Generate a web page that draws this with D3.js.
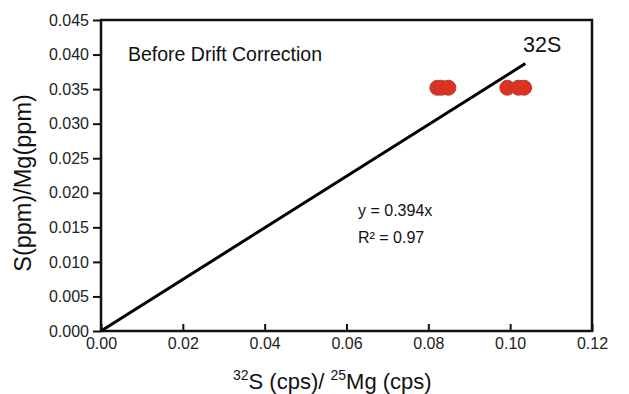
<!DOCTYPE html>
<html>
<head>
<meta charset="utf-8">
<script src="https://cdn.jsdelivr.net/npm/d3@7"></script>
<style>
  body { margin: 0; background: #fff; }
  svg { display: block; font-family: "Liberation Sans", Arial, sans-serif; }
</style>
</head>
<body>
<svg id="chart" width="629" height="394"></svg>
<script>
// data
var pointsX = [0.0822, 0.0832, 0.0849, 0.0993, 0.1020, 0.1034];
var pointsY = [0.0352, 0.0352, 0.0352, 0.0352, 0.0352, 0.0352];
var fitX = [0, 0.1037];
var fitY = [0, 0.0387];
var xTicks = [0, 0.02, 0.04, 0.06, 0.08, 0.10, 0.12];
var yTicks = [0, 0.005, 0.010, 0.015, 0.020, 0.025, 0.030, 0.035, 0.040, 0.045];

var svg = d3.select('#chart');
// plot box (window.top is reserved, so prefix)
var pLeft = 101, pRight = 592, pTop = 20, pBottom = 331;

var x = d3.scaleLinear().domain([0, 0.12]).range([pLeft, pRight]);
var y = d3.scaleLinear().domain([0, 0.045]).range([pBottom, pTop]);

// axes
var xAxis = svg.append('g')
  .attr('transform', 'translate(0,' + pBottom + ')')
  .call(d3.axisBottom(x).tickValues(xTicks).tickFormat(d3.format('.2f'))
    .tickSizeInner(-7).tickSizeOuter(0).tickPadding(7));
var yAxis = svg.append('g')
  .attr('transform', 'translate(' + pLeft + ',0)')
  .call(d3.axisLeft(y).tickValues(yTicks).tickFormat(d3.format('.3f'))
    .tickSizeInner(8).tickSizeOuter(0).tickPadding(4));

[xAxis, yAxis].forEach(function(g){
  g.select('.domain').remove();
  g.selectAll('line').attr('stroke', '#111').attr('stroke-width', 2);
  g.selectAll('text').attr('font-size', 16).attr('fill', '#222')
    .attr('font-family', '"Liberation Sans", Arial, sans-serif');
});

// frame
svg.append('rect')
  .attr('x', pLeft).attr('y', pTop)
  .attr('width', pRight - pLeft).attr('height', pBottom - pTop)
  .attr('fill', 'none').attr('stroke', '#111').attr('stroke-width', 2.5);

// fit line
svg.append('line')
  .attr('x1', x(fitX[0])).attr('y1', y(fitY[0]))
  .attr('x2', x(fitX[1])).attr('y2', y(fitY[1]))
  .attr('stroke', '#000').attr('stroke-width', 3);

// points
svg.append('g').selectAll('circle')
  .data(pointsX)
  .enter().append('circle')
  .attr('cx', function(d){ return x(d); })
  .attr('cy', function(d, i){ return y(pointsY[i]); })
  .attr('r', 7.5)
  .attr('fill', '#e1301f')
  .attr('stroke', '#a8443a')
  .attr('stroke-width', 1);

// labels
svg.append('text').attr('x', 128).attr('y', 61)
  .attr('font-size', 19.5).attr('fill', '#111')
  .text('Before Drift Correction');
svg.append('text').attr('x', 523).attr('y', 52)
  .attr('font-size', 21.5).attr('fill', '#111')
  .text('32S');
svg.append('text').attr('x', 358).attr('y', 216)
  .attr('font-size', 16).attr('fill', '#111')
  .text('y = 0.394x');
svg.append('text').attr('x', 358).attr('y', 243)
  .attr('font-size', 16).attr('fill', '#111')
  .text('R² = 0.97');

// axis titles
var xt = svg.append('text').attr('x', 233).attr('y', 389)
  .attr('font-size', 22).attr('fill', '#111');
xt.append('tspan').attr('font-size', 14).attr('dy', -9).text('32');
xt.append('tspan').attr('dy', 9).text('S (cps)/ ');
xt.append('tspan').attr('font-size', 14).attr('dy', -9).text('25');
xt.append('tspan').attr('dy', 9).text('Mg (cps)');

svg.append('text')
  .attr('transform', 'translate(31,183) rotate(-90)')
  .attr('text-anchor', 'middle')
  .attr('font-size', 23.5).attr('fill', '#111')
  .text('S(ppm)/Mg(ppm)');
</script>
</body>
</html>
